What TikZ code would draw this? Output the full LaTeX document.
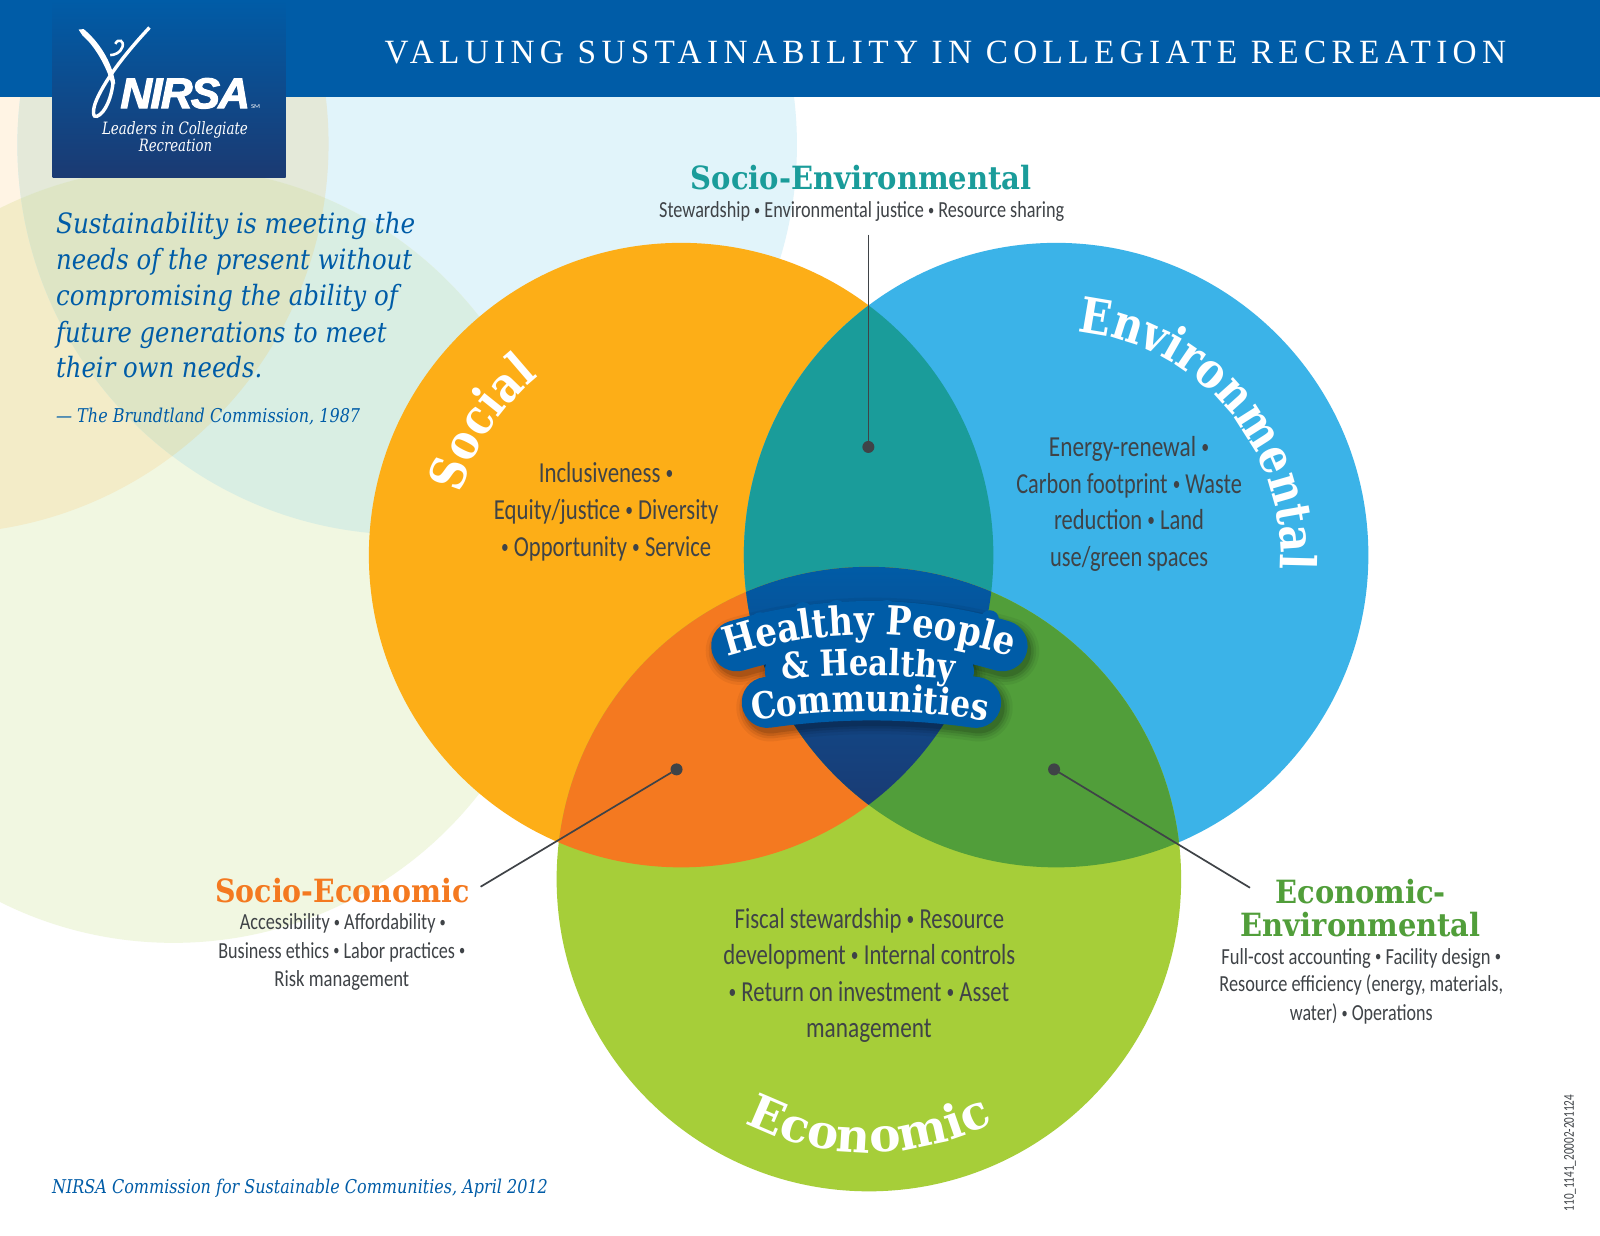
\documentclass[tikz,border=0pt]{standalone}
\usepackage{fontspec}
\usepackage{graphicx}
\usetikzlibrary{decorations.text}
\setmainfont{Carlito}
\newfontfamily\slab[FakeStretch=0.85]{DejaVu Serif}
\newfontfamily\slabwide{DejaVu Serif}
\newfontfamily\quotef{DejaVu Serif}
\newfontfamily\titlef{Liberation Serif}
\newfontfamily\logof[FakeBold=2.5]{Liberation Sans}
\definecolor{hdr}{HTML}{005CA7}
\definecolor{navy}{HTML}{1B3A72}
\definecolor{ink}{HTML}{3F4347}
\definecolor{socC}{HTML}{FDAE17}
\definecolor{envC}{HTML}{3BB3E8}
\definecolor{ecoC}{HTML}{A6CE39}
\definecolor{seC}{HTML}{1A9C9A}
\definecolor{soeC}{HTML}{F47920}
\definecolor{eeC}{HTML}{519E3A}
\definecolor{bgA}{HTML}{FFF4E4}
\definecolor{bgB}{HTML}{E1F4FA}
\definecolor{bgC}{HTML}{F1F7E1}
\definecolor{bgAB}{HTML}{E4E9D9}
\definecolor{bgAC}{HTML}{F3ECC8}
\definecolor{bgBC}{HTML}{D9EEE3}
\definecolor{bgABC}{HTML}{DEE5C5}
\newcommand\curveA{\slab\bfseries\fontsize{49}{49}\selectfont}
\newcommand\curveE{\slabwide\bfseries\fontsize{47}{47}\selectfont}
\newcommand\curveB{\slab\bfseries\fontsize{40}{40}\selectfont}
\newcommand\curveC{\slab\bfseries\fontsize{36}{36}\selectfont}
\newcommand\curveD{\slab\bfseries\fontsize{37}{37}\selectfont}
\newcommand\bu{\raisebox{0.1em}{\scalebox{.68}{•}}}
\tikzset{
  x=1.020408pt,y=1.020408pt,
  fitbase/.style={anchor=base,inner sep=0pt,outer sep=0pt},
  bodytext/.style={text=ink,font=\fontsize{29}{29}\selectfont},
  subtext/.style={text=ink,font=\fontsize{23}{23}\selectfont},
  headtext/.style={font=\slab\bfseries\fontsize{32}{32}\selectfont},
  quotetext/.style={text=hdr,font=\quotef\itshape\fontsize{28}{28}\selectfont},
  citetext/.style={text=hdr,font=\quotef\itshape\fontsize{19}{19}\selectfont},
  logotext/.style={text=white,font=\quotef\itshape\fontsize{17}{17}\selectfont},
  dotnode/.style={circle,fill=ink,minimum size=12pt,inner sep=0pt,outer sep=0pt},
  leader/.style={draw=ink,line width=1.7pt},
  curved/.style={decorate,decoration={text along path,text align=center,text={#1}}},
}
\newcommand\fitlabel[6]{%
  \pgfmathsetlengthmacro\fitwd{(#3-#2)*1.020408pt}%
  \node[fitbase,#5] (#1) at ({(#2+#3)/2},-#4) {\resizebox{\fitwd}{\height}{#6}};}
\newcommand\clipfill[3]{\begin{scope}#1\fill[#2] #3;\end{scope}}
\def\cSoc{(667.5,-544) circle (306)}
\def\cEnv{(1035,-544) circle (306)}
\def\cEco{(851.5,-861.5) circle (306)}
\def\bA{(-60,-141) circle (382)}
\def\bB{(399,-142) circle (382)}
\def\bC{(170,-544) circle (380)}
\begin{document}
\begin{tikzpicture}
\useasboundingbox (0,-1211.28) rectangle (1568,0);
\fill[white] (0,-1211.28) rectangle (1568,0);
% background circles
\fill[bgA] \bA; \fill[bgB] \bB; \fill[bgC] \bC;
\clipfill{\clip \bA;}{bgAB}{\bB}
\clipfill{\clip \bA;}{bgAC}{\bC}
\clipfill{\clip \bB;}{bgBC}{\bC}
\clipfill{\clip \bA; \clip \bB;}{bgABC}{\bC}
% header
\fill[hdr] (0,-95) rectangle (1568,0);
\shade[top color=hdr,bottom color=navy] (51.5,-174) rectangle (280,0);
\fitlabel{title}{377}{1476}{62}{text=white,font=\titlef\fontsize{34}{34}\addfontfeature{LetterSpace=16}\selectfont}{VALUING SUSTAINABILITY IN COLLEGIATE RECREATION}
% logo
\fill[white] (77,-29) -- (82,-28.5) .. controls (96,-40) and (110,-60) .. (113,-82) -- (109,-82) .. controls (104,-64) and (92,-44) .. (81,-35) -- cycle;
\draw[white,line width=3.4pt] (146.5,-27) .. controls (125,-50) and (105,-75) .. (95,-97) .. controls (90,-108) and (91,-116) .. (95,-114) .. controls (103,-111) and (110,-95) .. (111,-78);
\draw[white,line width=2.6pt] (113,-43) .. controls (116,-37) and (122,-40) .. (120,-46) .. controls (118,-52) and (112,-54) .. (108,-54);
\fitlabel{nirsa}{118}{245}{106}{text=white,font=\logof\bfseries\itshape\fontsize{43}{43}\addfontfeature{LetterSpace=-4}\selectfont}{NIRSA}
\fitlabel{sm}{246}{255}{106}{text=white,font=\fontsize{6}{6}\selectfont}{SM}
\fitlabel{logoA}{100}{243}{132}{logotext}{Leaders in Collegiate}
\fitlabel{logoB}{136}{208}{148}{logotext}{Recreation}
% quote
\fitlabel{qA}{55}{407}{229}{quotetext}{Sustainability is meeting the}
\fitlabel{qB}{55}{404}{264}{quotetext}{needs of the present without}
\fitlabel{qC}{55}{390}{299}{quotetext}{compromising the ability of}
\fitlabel{qD}{55}{379}{336}{quotetext}{future generations to meet}
\fitlabel{qE}{55}{257}{370}{quotetext}{their own needs.}
\fitlabel{cite}{55}{353}{414}{citetext}{— The Brundtland Commission, 1987}
\fitlabel{foot}{51}{537}{1170}{citetext}{NIRSA Commission for Sustainable Communities, April 2012}
% Venn
\fill[socC] \cSoc; \fill[envC] \cEnv; \fill[ecoC] \cEco;
\clipfill{\clip \cSoc;}{seC}{\cEnv}
\clipfill{\clip \cSoc;}{soeC}{\cEco}
\clipfill{\clip \cEnv;}{eeC}{\cEco}
\begin{scope}
\clip \cSoc; \clip \cEnv; \clip \cEco;
\shade[top color=hdr,bottom color=navy,middle color=navy!55!hdr] (500,-800) rectangle (1200,-550);
\end{scope}
% curved titles
\path[curved={|\curveA\color{white}|Social}] (667.5,-544) ++(166.5:224) arc[start angle=166.5,end angle=126.5,radius=224];
\path[curved={|\curveA\color{white}|Environmental}] (1035,-544) ++(88:220) arc[start angle=88,end angle=-7,radius=220];
\path[curved={|\curveE\color{white}|Economic}] (851.5,-861.5) ++(236:268) arc[start angle=236,end angle=304,radius=268];
% body text
\fitlabel{sA}{528}{660}{473}{bodytext}{Inclusiveness \bu}
\fitlabel{sB}{484}{704}{509}{bodytext}{Equity/justice \bu{} Diversity}
\fitlabel{sC}{491}{697}{545}{bodytext}{\bu{} Opportunity \bu{} Service}
\fitlabel{eA}{1028}{1185}{447}{bodytext}{Energy-renewal \bu}
\fitlabel{eB}{996}{1217}{484}{bodytext}{Carbon footprint \bu{} Waste}
\fitlabel{eC}{1033}{1180}{519}{bodytext}{reduction \bu{} Land}
\fitlabel{eD}{1029}{1184}{555}{bodytext}{use/green spaces}
\fitlabel{cA}{720}{984}{910}{bodytext}{Fiscal stewardship \bu{} Resource}
\fitlabel{cB}{709}{995}{945}{bodytext}{development \bu{} Internal controls}
\fitlabel{cC}{714}{989}{981}{bodytext}{\bu{} Return on investment \bu{} Asset}
\fitlabel{cD}{790}{913}{1017}{bodytext}{management}
% overlap labels
\fitlabel{seH}{677}{1011}{186}{headtext,text=seC}{Socio-Environmental}
\fitlabel{seS}{646}{1043}{213}{subtext}{Stewardship \bu{} Environmental justice \bu{} Resource sharing}
\fitlabel{soH}{211}{460}{884}{headtext,text=soeC}{Socio-Economic}
\fitlabel{soA}{235}{437}{911}{subtext}{Accessibility \bu{} Affordability \bu}
\fitlabel{soB}{214}{456}{939}{subtext}{Business ethics \bu{} Labor practices \bu}
\fitlabel{soC}{269}{401}{967}{subtext}{Risk management}
\fitlabel{eeH}{1250}{1417}{885}{headtext,text=eeC}{Economic-}
\fitlabel{eeI}{1216}{1451}{918}{headtext,text=eeC}{Environmental}
\fitlabel{eeA}{1197}{1471}{945}{subtext}{Full-cost accounting \bu{} Facility design \bu}
\fitlabel{eeB}{1195}{1473}{972}{subtext}{Resource efficiency (energy, materials,}
\fitlabel{eeC}{1264}{1404}{1000}{subtext}{water) \bu{} Operations}
% leaders
\node[dotnode] (seDot) at (851,-438) {};
\node[dotnode] (soDot) at (663,-754) {};
\node[dotnode] (eeDot) at (1033,-754) {};
\coordinate (seEnd) at (851,-230);
\coordinate (soEnd) at (471,-869);
\coordinate (eeEnd) at (1225,-870);
\draw[leader] (seEnd) -- (seDot);
\draw[leader] (soEnd) -- (soDot);
\draw[leader] (eeEnd) -- (eeDot);
% badge
\def\badgeA{(852,-1072) ++(106.5:458) arc[start angle=106.5,end angle=73.5,radius=458]}
\def\badgeB{(852,-1462) ++(95.5:808) arc[start angle=95.5,end angle=84.5,radius=808]}
\def\badgeC{(854,-1397) ++(98.2:716) arc[start angle=98.2,end angle=81.8,radius=716]}
\foreach \w/\o in {68/.05,62/.07,57/.09,52/.12}{
  \begin{scope}[shift={(3,-5)}]
  \draw[black,opacity=\o,line width=\w pt,line cap=round] \badgeA;
  \draw[black,opacity=\o,line width=\w pt,line cap=round] \badgeB;
  \draw[black,opacity=\o,line width=\w pt,line cap=round] \badgeC;
  \end{scope}}
\draw[hdr,line width=51pt,line cap=round] \badgeA;
\draw[hdr,line width=51pt,line cap=round] \badgeB;
\draw[hdr,line width=51pt,line cap=round] \badgeC;
\foreach \px/\py/\pr in {745/-609/9,787/-599/9,820/-597/9,869/-597/9,921/-603/9,970/-607/9}
  \fill[hdr] (\px,\py) circle (\pr);
\path[curved={|\curveB\color{white}|Healthy People}] (852,-1072) ++(110:450) arc[start angle=110,end angle=70,radius=450];
\path[curved={|\curveC\color{white}|{\&} Healthy}] (851,-1463) ++(97:801) arc[start angle=97,end angle=83,radius=801];
\path[curved={|\curveD\color{white}|Communities}] (852.5,-1397) ++(102:700) arc[start angle=102,end angle=78,radius=700];
% side code
\node[inner sep=0pt,text=ink,rotate=90,font=\fontsize{15}{15}\selectfont] (code) at (1538.5,-1130) {\resizebox{116.5pt}{\height}{110\_1141\_20002-201124}};
\end{tikzpicture}
\end{document}
